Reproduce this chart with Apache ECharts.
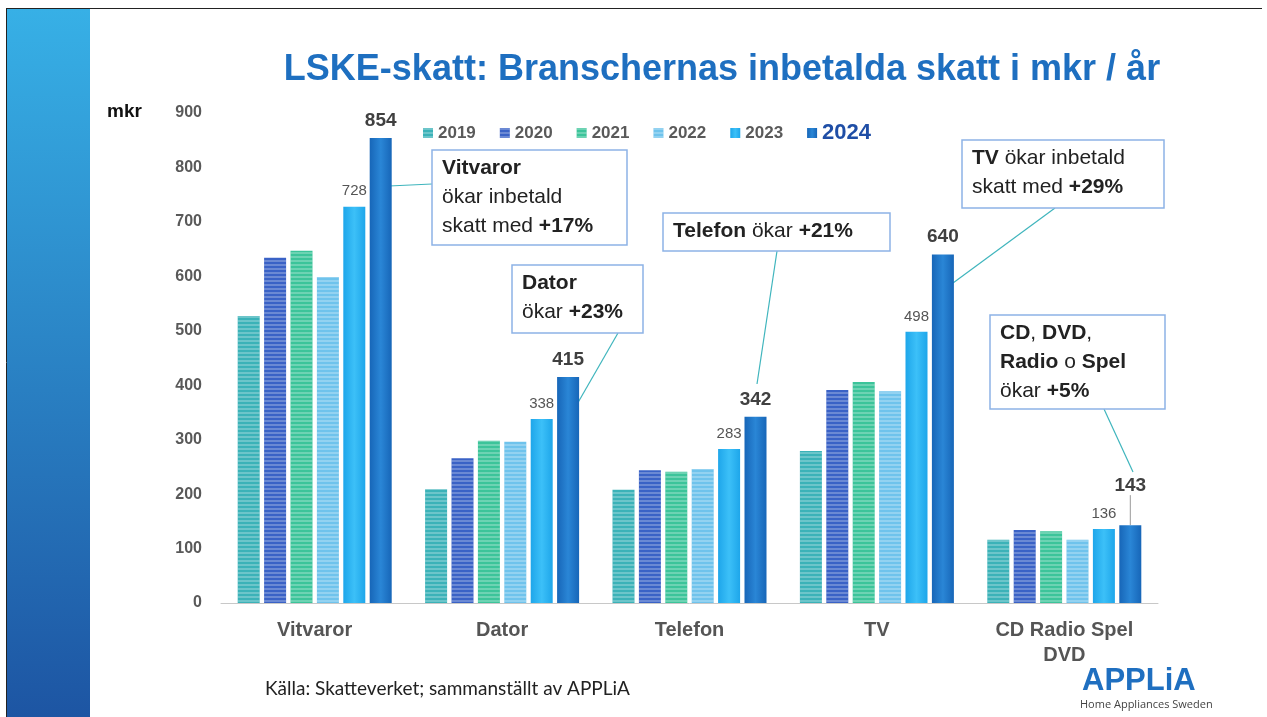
<!DOCTYPE html>
<html>
<head>
<meta charset="utf-8">
<script src="https://cdn.jsdelivr.net/npm/echarts@6/dist/echarts.min.js"></script>
<style>
  html, body { margin: 0; padding: 0; background: #fff; }
  #chart { width: 1267px; height: 717px; }
</style>
</head>
<body>
<div id="chart"></div>
<script>
var categories = ['Vitvaror', 'Dator', 'Telefon', 'TV', 'CD Radio Spel\nDVD'];
var years = ['2019', '2020', '2021', '2022', '2023', '2024'];
var v2019 = [527, 209, 208, 279, 116];
var v2020 = [634, 266, 244, 391, 134];
var v2021 = [647, 298, 241, 406, 132];
var v2022 = [599, 296, 246, 389, 116];
var v2023 = [728, 338, 283, 498, 136];
var v2024 = [854, 415, 342, 640, 143];
var yTicks = [0, 100, 200, 300, 400, 500, 600, 700, 800, 900];

var chart = echarts.init(document.getElementById('chart'));
var FONT = '"Liberation Sans", Arial, sans-serif';

function stripes() {
    return {
        symbol: 'rect',
        symbolSize: 1,
        dashArrayX: [1, 0],
        dashArrayY: [2, 2],
        rotation: 0,
        color: 'rgba(255,255,255,0.25)'
    };
}

function shade(edge, mid) {
    return new echarts.graphic.LinearGradient(0, 0, 1, 0, [
        { offset: 0, color: edge },
        { offset: 0.5, color: mid },
        { offset: 1, color: edge }
    ]);
}

var colors = ['#3bb2b8', '#3a62c6', '#3cc49a', '#6fc3ec', '#22aef0', '#1a72c6'];
var values = [v2019, v2020, v2021, v2022, v2023, v2024];

var series = years.map(function (y, i) {
    var s = {
        name: y,
        type: 'bar',
        data: values[i],
        barWidth: 22,
        barGap: '20%',
        itemStyle: { color: colors[i] }
    };
    if (i < 4) {
        s.itemStyle.decal = stripes();
    }
    if (i === 4) {
        s.itemStyle.color = shade('#1ea6ea', '#3cc0f8');
        s.label = {
            show: true, position: 'top', distance: 8,
            fontFamily: FONT, fontSize: 15, color: '#555'
        };
    }
    if (i === 5) {
        s.itemStyle.color = shade('#1766b8', '#2a86d6');
        s.label = {
            show: true, position: 'top', distance: 8,
            fontFamily: FONT, fontSize: 19, fontWeight: 'bold', color: '#404040'
        };
        // last group: label lifted with a thin leader down to the bar
        s.data = values[i].map(function (v, k) {
            return k === 4 ? { value: v, labelLine: { show: true } } : v;
        });
        s.labelLayout = function (p) {
            if (p.dataIndex === 4) return { dy: -22 };
            return {};
        };
        s.labelLine = { show: false, lineStyle: { color: '#999', width: 1 } };
    }
    return s;
});

var FS = 21, LH = 29;
var rich = {
    b: { fontFamily: FONT, fontSize: FS, fontWeight: 'bold', lineHeight: LH, color: '#222' },
    n: { fontFamily: FONT, fontSize: FS, lineHeight: LH, color: '#222' }
};

function box(x, y, w, h, text) {
    return {
        type: 'group',
        children: [
            { type: 'rect', shape: { x: x, y: y, width: w, height: h },
              style: { fill: '#fff', stroke: '#8db3e6', lineWidth: 1.5 } },
            { type: 'text', x: x + 10, y: y + 4,
              style: { text: text, rich: rich, fontFamily: FONT, fontSize: FS, lineHeight: LH, fill: '#222' } }
        ]
    };
}

function line(x1, y1, x2, y2) {
    return { type: 'line', shape: { x1: x1, y1: y1, x2: x2, y2: y2 },
             style: { stroke: '#3fb5bd', lineWidth: 1.2 } };
}

chart.setOption({
    animation: false,
    backgroundColor: '#fff',
    title: {
        text: 'LSKE-skatt: Branschernas inbetalda skatt i mkr / år',
        left: 717, top: 47, textAlign: 'center',
        textStyle: { fontFamily: FONT, fontSize: 36, fontWeight: 'bold', color: '#1e6fc0' }
    },
    legend: {
        data: years,
        left: 418, top: 117,
        icon: 'rect',
        itemWidth: 10, itemHeight: 10, itemGap: 24,
        textStyle: {
            fontFamily: FONT, fontSize: 17, fontWeight: 'bold', color: '#5a5a5a',
            rich: { big: { fontFamily: FONT, fontSize: 22, fontWeight: 'bold', color: '#1f4ea6' } }
        },
        formatter: function (name) {
            return name === '2024' ? '{big|' + name + '}' : name;
        }
    },
    grid: { left: 221, right: 109, top: 113, bottom: 114, containLabel: false },
    xAxis: {
        type: 'category',
        data: categories,
        axisLine: { lineStyle: { color: '#c8c8c8' } },
        axisTick: { show: false },
        axisLabel: {
            fontFamily: FONT, fontSize: 20, fontWeight: 'bold', color: '#555',
            margin: 15, lineHeight: 25
        }
    },
    yAxis: {
        type: 'value',
        min: yTicks[0], max: yTicks[yTicks.length - 1], interval: 100,
        axisLine: { show: false },
        axisTick: { show: false },
        splitLine: { show: false },
        axisLabel: { fontFamily: FONT, fontSize: 16, fontWeight: 'bold', color: '#595959', margin: 19 }
    },
    series: series,
    graphic: [
        { type: 'rect', shape: { x: 7, y: 9, width: 83, height: 708 },
          style: { fill: new echarts.graphic.LinearGradient(0, 0, 0, 1, [
              { offset: 0, color: '#37b0e6' }, { offset: 1, color: '#1d55a3' }]) } },
        { type: 'line', shape: { x1: 6, y1: 8.5, x2: 1262, y2: 8.5 }, style: { stroke: '#222', lineWidth: 1 } },
        { type: 'line', shape: { x1: 6.5, y1: 8, x2: 6.5, y2: 717 }, style: { stroke: '#222', lineWidth: 1 } },
        { type: 'text', x: 107, y: 102,
          style: { text: 'mkr', fontFamily: FONT, fontSize: 19, fontWeight: 'bold', fill: '#111' } },

        line(432, 184, 389, 186),
        box(432, 150, 195, 95, '{b|Vitvaror}\n{n|ökar inbetald}\n{n|skatt med }{b|+17%}'),
        line(618, 333, 572, 413),
        box(512, 265, 131, 68, '{b|Dator}\n{n|ökar }{b|+23%}'),
        line(777, 251, 757, 384),
        box(663, 213, 227, 38, '{b|Telefon}{n| ökar }{b|+21%}'),
        line(1055, 208, 953, 283),
        box(962, 140, 202, 68, '{b|TV}{n| ökar inbetald}\n{n|skatt med }{b|+29%}'),
        line(1104, 409, 1133, 472),
        box(990, 315, 175, 94, '{b|CD}{n|, }{b|DVD}{n|,}\n{b|Radio}{n| o }{b|Spel}\n{n|ökar }{b|+5%}'),

        { type: 'text', x: 265, y: 679,
          style: { text: 'Källa: Skatteverket; sammanställt av APPLiA', fontFamily: 'Lato, "Open Sans", sans-serif', fontSize: 19, fill: '#222' } },
        { type: 'text', x: 1082, y: 666,
          style: { text: 'APPLiA', fontFamily: FONT, fontSize: 31, fontWeight: 'bold', fill: '#1f6fc0' } },
        { type: 'text', x: 1080, y: 699,
          style: { text: 'Home Appliances Sweden', fontFamily: '"Open Sans", sans-serif', fontSize: 11, fill: '#444' } }
    ]
});
</script>
</body>
</html>
